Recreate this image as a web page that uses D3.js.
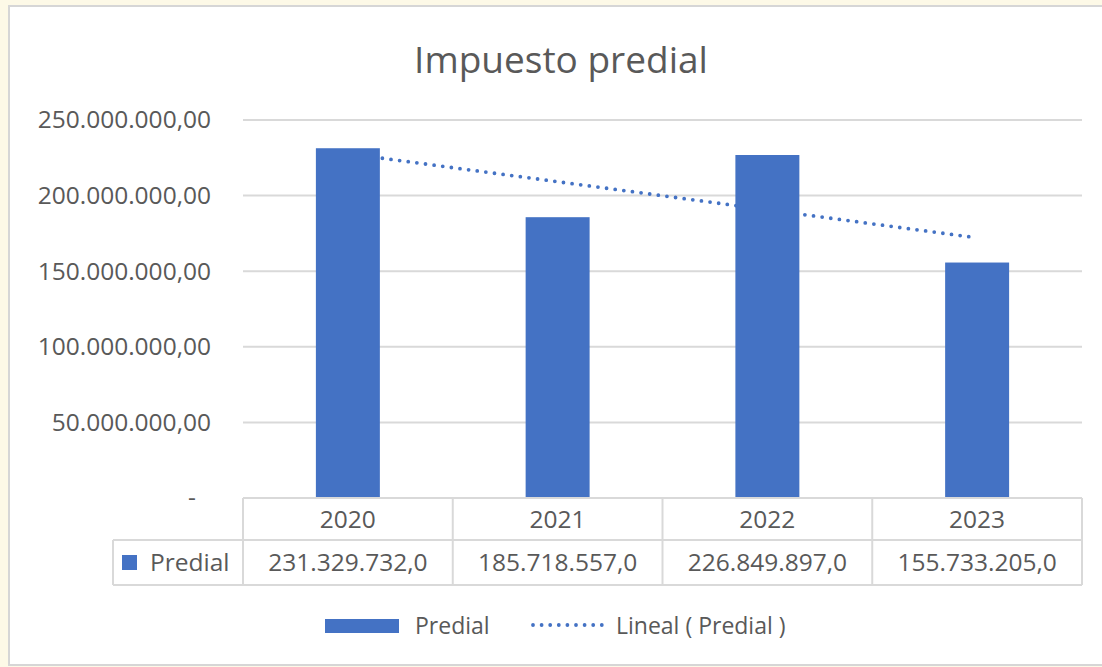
<!DOCTYPE html>
<html>
<head>
<meta charset="utf-8">
<script src="https://cdn.jsdelivr.net/npm/d3@7"></script>
<style>
  html, body { margin: 0; padding: 0; background: #fdf9e7; }
  svg { display: block; }
  text { font-family: "Open Sans", "Noto Sans", sans-serif; fill: #595959; }
</style>
</head>
<body>
<svg id="chart" width="1102" height="667"></svg>
<script>
// Data
const years = ["2020", "2021", "2022", "2023"];
const predial = [231329732.0, 185718557.0, 226849897.0, 155733205.0];
const valueLabels = ["231.329.732,0", "185.718.557,0", "226.849.897,0", "155.733.205,0"];
const yTicks = [0, 50000000, 100000000, 150000000, 200000000, 250000000];
const yTickLabels = ["-", "50.000.000,00", "100.000.000,00", "150.000.000,00", "200.000.000,00", "250.000.000,00"];
const seriesName = "Predial";
const trendName = "Lineal ( Predial )";
const title = "Impuesto predial";

const BLUE = "#4472c4";
const GRID = "#d9d9d9";

const svg = d3.select("#chart");

// Chart panel
svg.append("rect")
  .attr("x", 9).attr("y", 6).attr("width", 1100).attr("height", 659)
  .attr("fill", "#ffffff").attr("stroke", "#d6d6d6").attr("stroke-width", 2);

// Scales
const x = d3.scaleBand().domain(years).range([243, 1082]).padding(0);
const y = d3.scaleLinear().domain([0, 250000000]).range([498, 120]);
const barW = x.bandwidth() * 0.305;

// Title
svg.append("text")
  .attr("x", 561).attr("y", 73)
  .attr("text-anchor", "middle")
  .style("font-size", "37px")
  .text(title);

// Gridlines
svg.append("g").selectAll("line")
  .data(yTicks.filter(d => d > 0))
  .join("line")
  .attr("x1", 243).attr("x2", 1082)
  .attr("y1", d => y(d)).attr("y2", d => y(d))
  .attr("stroke", GRID).attr("stroke-width", 2);

// Y axis labels
const yAxis = d3.axisLeft(y).tickValues(yTicks)
  .tickFormat((d, i) => yTickLabels[i]).tickSize(0).tickPadding(0);
const gy = svg.append("g").attr("transform", "translate(211,0)").call(yAxis);
gy.select(".domain").remove();
gy.selectAll("text")
  .attr("fill", "#595959")
  .style("font-size", "24.5px")
  .style("font-family", "'Open Sans', 'Noto Sans', sans-serif")
  .attr("dx", (d) => d === 0 ? -15 : 0);

// Linear trend (least squares over category index), drawn beneath the bars
const xs = predial.map((_, i) => i + 1);
const mx = d3.mean(xs), my = d3.mean(predial);
const slope = d3.sum(xs, (v, i) => (v - mx) * (predial[i] - my)) / d3.sum(xs, v => (v - mx) ** 2);
const intercept = my - slope * mx;
const trendPts = [1, years.length].map(v => [x(years[v - 1]) + x.bandwidth() / 2, y(intercept + slope * v)]);
svg.append("path")
  .attr("d", d3.line()(trendPts))
  .attr("fill", "none")
  .attr("stroke", BLUE)
  .attr("stroke-width", 3.8)
  .attr("stroke-linecap", "round")
  .attr("stroke-dasharray", "0 8.7");

// Bars
svg.append("g").selectAll("rect")
  .data(predial)
  .join("rect")
  .attr("x", (d, i) => x(years[i]) + (x.bandwidth() - barW) / 2)
  .attr("width", barW)
  .attr("y", d => y(d))
  .attr("height", d => y(0) - y(d))
  .attr("fill", BLUE);

// Data table
const rowTop = 498, rowMid = 540, rowBot = 585, legendLeft = 113;
const tbl = svg.append("g").attr("stroke", GRID).attr("stroke-width", 2);
tbl.append("line").attr("x1", 243).attr("x2", 1082).attr("y1", rowTop).attr("y2", rowTop);
tbl.append("line").attr("x1", legendLeft).attr("x2", 1082).attr("y1", rowMid).attr("y2", rowMid);
tbl.append("line").attr("x1", legendLeft).attr("x2", 1082).attr("y1", rowBot).attr("y2", rowBot);
tbl.append("line").attr("x1", legendLeft).attr("x2", legendLeft).attr("y1", rowMid).attr("y2", rowBot);
tbl.selectAll("line.col")
  .data(years.map(d => x(d)).concat([x.range()[1]]))
  .join("line").attr("class", "col")
  .attr("x1", d => d).attr("x2", d => d)
  .attr("y1", rowTop).attr("y2", rowBot);

svg.append("g").selectAll("text")
  .data(years)
  .join("text")
  .attr("x", d => x(d) + x.bandwidth() / 2)
  .attr("y", (rowTop + rowMid) / 2)
  .attr("dy", "0.35em")
  .attr("text-anchor", "middle")
  .style("font-size", "24.5px")
  .text(d => d);

svg.append("g").selectAll("text")
  .data(valueLabels)
  .join("text")
  .attr("x", (d, i) => x(years[i]) + x.bandwidth() / 2)
  .attr("y", (rowMid + rowBot) / 2)
  .attr("dy", "0.35em")
  .attr("text-anchor", "middle")
  .style("font-size", "24.5px")
  .text(d => d);

svg.append("rect")
  .attr("x", 122).attr("y", 555).attr("width", 15).attr("height", 15)
  .attr("fill", BLUE);
svg.append("text")
  .attr("x", 150).attr("y", (rowMid + rowBot) / 2)
  .attr("dy", "0.35em")
  .style("font-size", "24.5px")
  .text(seriesName);

// Legend
const lg = svg.append("g");
lg.append("rect").attr("x", 325).attr("y", 619).attr("width", 74).attr("height", 14).attr("fill", BLUE);
lg.append("text").attr("x", 415).attr("y", 626).attr("dy", "0.35em")
  .style("font-size", "23px").text(seriesName);
lg.append("line").attr("x1", 533).attr("x2", 602).attr("y1", 625).attr("y2", 625)
  .attr("stroke", BLUE).attr("stroke-width", 3.8)
  .attr("stroke-linecap", "round").attr("stroke-dasharray", "0 8.6");
lg.append("text").attr("x", 616).attr("y", 626).attr("dy", "0.35em")
  .style("font-size", "23px").text(trendName);
</script>
</body>
</html>
